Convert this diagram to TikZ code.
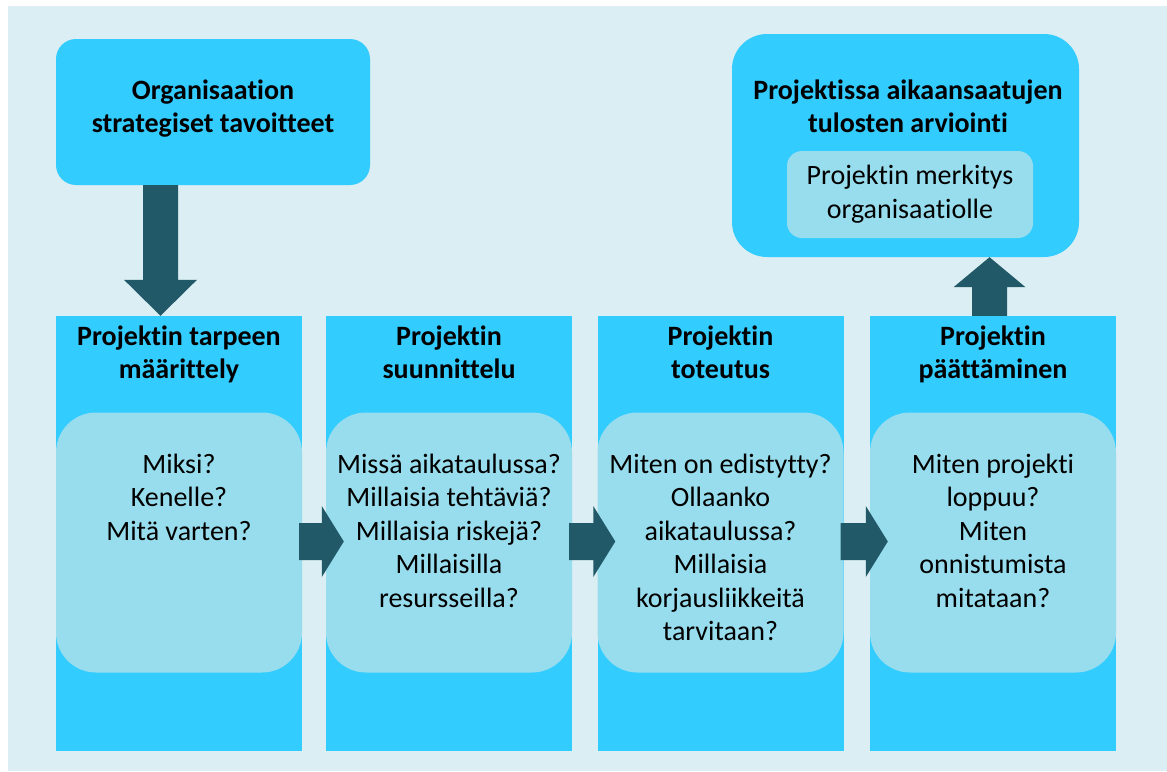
\documentclass[tikz,border=0pt]{standalone}
\usepackage{fontspec}
\setmainfont{Carlito}[Ligatures=NoCommon]
\usetikzlibrary{calc}
\definecolor{panelblue}{HTML}{DAEEF3}
\definecolor{boxblue}{HTML}{33CCFF}
\definecolor{paleblue}{HTML}{98DDED}
\definecolor{darkteal}{HTML}{215968}
\newcommand{\rightblock}[2]{%
  \fill[darkteal] ($(#1.east)+(-3,-19.5)$) -- ($(#2.west)+(-4,-19.5)$)
    -- ($(#2.west)+(-4,-36.5)$) -- ($(#2.west)+(18,-1)$)
    -- ($(#2.west)+(-4,34.5)$) -- ($(#2.west)+(-4,17.5)$)
    -- ($(#1.east)+(-3,17.5)$) -- cycle;}
\begin{document}
\begin{tikzpicture}[x=1pt, y=-1pt]
        \useasboundingbox (0, 0) rectangle (1167, 771);
        \fill[panelblue] (8, 6) rectangle (1167, 771);

        \begin{scope}[
            box/.style={fill=boxblue, inner sep=0pt},
            colbox/.style={box, minimum width=246pt, minimum height=435pt},
            qbox/.style={fill=paleblue, rounded corners=40pt, inner sep=0pt,
                minimum width=246pt, minimum height=260pt}]
            \node[box, rounded corners=20pt, minimum width=314pt, minimum height=146pt] (org) at (213, 112) {};
            \node[box, rounded corners=35pt, minimum width=347pt, minimum height=223pt] (res) at (905.5, 145.5) {};
            \node[colbox] (c1) at (179, 533.5) {};
            \node[colbox] (c2) at (449, 533.5) {};
            \node[colbox] (c3) at (720.5, 533.5) {};
            \node[colbox] (c4) at (993, 533.5) {};
            \node[qbox] (q1) at (179, 542.5) {};
            \node[qbox] (q2) at (449, 542.5) {};
            \node[qbox] (q3) at (720.5, 542.5) {};
            \node[qbox] (q4) at (993, 542.5) {};
            \node[fill=paleblue, rounded corners=15pt, minimum width=246pt, minimum height=87pt,
                align=center, font=\fontsize{28}{34}\selectfont] (sig) at (910, 194.5)
                {Projektin merkitys\\organisaatiolle};
        \end{scope}

        \rightblock{q1}{q2}
        \rightblock{q2}{q3}
        \rightblock{q3}{q4}

        \coordinate (dtop) at ($(org.south)+(-52.5, 0)$);
        \coordinate (dtip) at (dtop |- c1.north);
        \fill[darkteal] ($(dtop)+(-17.5, 0)$) -- ($(dtip)+(-17.5, -36)$) -- ($(dtip)+(-36.5, -36)$)
            -- (dtip) -- ($(dtip)+(36.5, -36)$) -- ($(dtip)+(17.5, -36)$) -- ($(dtop)+(17.5, 0)$) -- cycle;

        \coordinate (ubase) at ($(c4.north)+(-3.5, 0)$);
        \coordinate (utip) at (ubase |- res.south);
        \fill[darkteal] ($(ubase)+(-17.5, 0)$) -- ($(utip)+(-17.5, 30)$) -- ($(utip)+(-36, 30)$)
            -- (utip) -- ($(utip)+(36, 30)$) -- ($(utip)+(17.5, 30)$) -- ($(ubase)+(17.5, 0)$) -- cycle;

        % base anchor sits on the last line
        \begin{scope}[
            txt/.style={inner sep=0pt, align=center, anchor=base,
                font=\fontsize{28}{33.5}\selectfont},
            head/.style={txt, font=\fontsize{28}{33}\selectfont\bfseries}]
            \node[head] (orgtxt) at (213, 132) {Organisaation\\strategiset tavoitteet};
            \node[head] (restxt) at (908, 132) {Projektissa aikaansaatujen\\tulosten arviointi};
            \node[head] (h1) at (179, 378) {Projektin tarpeen\\määrittely};
            \node[head] (h2) at (449, 378) {Projektin\\suunnittelu};
            \node[head] (h3) at (720.5, 378) {Projektin\\toteutus};
            \node[head] (h4) at (993, 378) {Projektin\\päättäminen};
            \node[txt] (t1) at (179, 540) {Miksi?\\Kenelle?\\Mitä varten?};
            \node[txt] (t2) at (449, 607) {Missä aikataulussa?\\Millaisia tehtäviä?\\Millaisia riskejä?\\Millaisilla\\resursseilla?};
            \node[txt] (t3) at (720.5, 640.5) {Miten on edistytty?\\Ollaanko\\aikataulussa?\\Millaisia\\korjausliikkeitä\\tarvitaan?};
            \node[txt] (t4) at (993, 607) {Miten projekti\\loppuu?\\Miten\\onnistumista\\mitataan?};
        \end{scope}

        \end{tikzpicture}
\end{document}
